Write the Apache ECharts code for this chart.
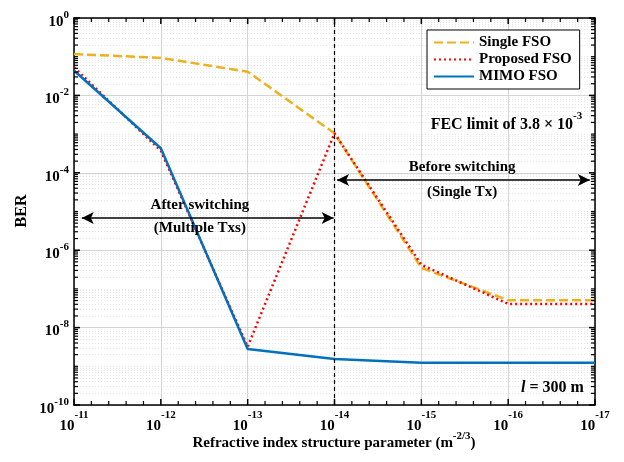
<!DOCTYPE html>
<html><head><meta charset="utf-8">
<script src="https://cdn.jsdelivr.net/npm/echarts@6/dist/echarts.min.js"></script>
<style>html,body{margin:0;padding:0;background:#fff}#c{width:624px;height:462px;background:#fff}</style>
</head><body><div id="c"></div>
<script>
// x values are the negative exponents of the refractive index structure parameter (10^-n)
const xExp = [11, 12, 13, 14, 15, 16, 17];
const singleFSO   = [0.117, 0.093, 0.041, 1.05e-3, 3.5e-7, 5.1e-8, 5.1e-8];
const proposedFSO = [0.053, 3.7e-4, 3.2e-9, 1.05e-3, 4.2e-7, 4.1e-8, 4.1e-8];
const mimoFSO     = [0.044, 4.3e-4, 2.8e-9, 1.55e-9, 1.24e-9, 1.24e-9, 1.24e-9];
const fecLimit = 3.8e-3;
const switchX = 14;
const yMajor = [1e-10, 1e-8, 1e-6, 1e-4, 1e-2, 1];
const yMinor = [];
for (let k = -10; k < 0; k++) {
  for (let m = 1; m <= 9; m++) {
    if (m === 1 && k % 2 === 0) continue;
    yMinor.push(m * Math.pow(10, k));
  }
}
const xMinor = [];
for (let i = 11; i < 17; i++) for (let j = 1; j < 5; j++) xMinor.push(i + j / 5);
// annotations [x, y]
const afterArrow = [[11.09, 6.8e-6], [13.99, 6.8e-6]];
const beforeArrow = [[14.03, 6.5e-5], [16.94, 6.5e-5]];
const notes = [
  {text: 'After switching', at: [12.45, 1.5e-5]},
  {text: '(Multiple Txs)', at: [12.45, 3.7e-6]},
  {text: 'Before switching', at: [15.47, 1.41e-4]},
  {text: '(Single Tx)', at: [15.47, 3.2e-5]}
];
const fecNote = {at: [15.98, 2.2e-3]};
const distNote = {at: [16.51, 2.75e-10]};

const X_MIN = 11, X_MAX = 17, Y_MIN = 1e-10, Y_MAX = 1;
const FONT = '"Liberation Serif", "Times New Roman", serif';
const pair = (xs, ys) => xs.map((x, i) => [x, ys[i]]);
const xRich = () => ({
  b: {fontFamily: FONT, fontWeight: 'bold', fontSize: 15, color: '#000', padding: [10, 0, 0, 0]},
  s: {fontFamily: FONT, fontWeight: 'bold', fontSize: 11, color: '#000', padding: [0, 0, 12, 0]}
});
const yRich = () => ({
  b: {fontFamily: FONT, fontWeight: 'bold', fontSize: 15, color: '#000', padding: [8, 0, 0, 0]},
  s: {fontFamily: FONT, fontWeight: 'bold', fontSize: 11, color: '#000', padding: [0, 0, 6, 0]}
});
const axisLineStyle = () => ({show: true, lineStyle: {color: '#000', width: 1.5}});
const xBase = () => ({
  type: 'value', min: X_MIN, max: X_MAX, interval: 1,
  axisLine: axisLineStyle(), axisTick: {show: false}, minorTick: {show: false}
});
const yCommon = () => ({type: 'log', logBase: 10, min: Y_MIN, max: Y_MAX,
  axisLine: axisLineStyle(), axisTick: {show: false}, minorTick: {show: false}});

// tick marks: [x, y, kind] kind 1 = x major, 2 = x minor, 3 = y major, 4 = y minor
const tickData = []
  .concat(xExp.map(v => [v, Y_MIN, 1]))
  .concat(xMinor.map(v => [v, Y_MIN, 2]))
  .concat(yMajor.map(v => [X_MIN, v, 3]))
  .concat(yMinor.map(v => [X_MIN, v, 4]));

function renderTick(params, api) {
  const kind = api.value(2);
  const major = kind === 1 || kind === 3;
  const len = major ? 6 : 4;
  const style = {stroke: '#000', lineWidth: major ? 1.5 : 1.2};
  let a, b, s1, s2;
  if (kind <= 2) {
    a = api.coord([api.value(0), Y_MIN]);
    b = api.coord([api.value(0), Y_MAX]);
    s1 = {x1: a[0], y1: a[1], x2: a[0], y2: a[1] - len};
    s2 = {x1: b[0], y1: b[1], x2: b[0], y2: b[1] + len};
  } else {
    a = api.coord([X_MIN, api.value(1)]);
    b = api.coord([X_MAX, api.value(1)]);
    s1 = {x1: a[0], y1: a[1], x2: a[0] + len, y2: a[1]};
    s2 = {x1: b[0], y1: b[1], x2: b[0] - len, y2: b[1]};
  }
  return {type: 'group', silent: true, children: [
    {type: 'line', shape: s1, style: style},
    {type: 'line', shape: s2, style: style}
  ]};
}

const chart = echarts.init(document.getElementById('c'));
chart.setOption({
  animation: false,
  grid: {left: 74, right: 29, top: 18, bottom: 57, outerBoundsMode: 'none'},
  graphic: [
    {type: 'text', x: 22, y: 211, rotation: Math.PI / 2, silent: true,
     style: {text: 'BER', fontFamily: FONT, fontWeight: 'bold', fontSize: 16, fill: '#000', align: 'center', verticalAlign: 'middle'}},
    {type: 'text', x: 334, y: 440, silent: true,
     style: {text: '{s|Refractive index structure parameter (m}{p|-2/3}{s|)}',
       align: 'center', verticalAlign: 'middle', fill: '#000',
       rich: {s: {fontFamily: FONT, fontWeight: 'bold', fontSize: 15, fill: '#000', color: '#000', padding: [6, 0, 0, 0]},
              p: {fontFamily: FONT, fontWeight: 'bold', fontSize: 11, fill: '#000', color: '#000', padding: [0, 0, 8, 0]}}}}
  ],
  legend: {
    orient: 'vertical', left: 427, top: 30,
    padding: [5, 8, 5, 6], itemGap: 2, itemWidth: 40, itemHeight: 14,
    borderColor: '#000', borderWidth: 1, backgroundColor: '#fff',
    itemStyle: {opacity: 0},
    textStyle: {fontFamily: FONT, fontWeight: 'bold', fontSize: 15, color: '#000'},
    data: ['Single FSO', 'Proposed FSO', 'MIMO FSO']
  },
  xAxis: [
    Object.assign(xBase(), {
      position: 'bottom',
      axisLabel: {margin: 4, formatter: v => '{b|10}{s|-' + v + '}', rich: xRich()},
      splitLine: {show: true, lineStyle: {color: '#d4d4d4', width: 1}}
    }),
    Object.assign(xBase(), {
      position: 'top', axisLabel: {show: false}, splitLine: {show: false}
    })
  ],
  yAxis: [
    Object.assign(yCommon(), {
      position: 'left',
      axisLabel: {customValues: yMajor.slice(), margin: 5,
        formatter: v => '{b|10}{s|' + Math.round(Math.log10(v)) + '}', rich: yRich()},
      axisTick: {show: false, customValues: yMajor.slice()},
      splitLine: {show: true, lineStyle: {color: '#d4d4d4', width: 1}}
    }),
    Object.assign(yCommon(), {
      position: 'left', axisLine: {show: false},
      axisTick: {show: false, customValues: yMinor.slice()},
      axisLabel: {show: false},
      splitLine: {show: true, lineStyle: {color: '#e6e6e6', width: 1, type: [1, 2]}}
    }),
    Object.assign(yCommon(), {
      position: 'right', axisLabel: {show: false}, splitLine: {show: false}
    })
  ],
  series: [
    {
      name: 'Single FSO', type: 'line', data: pair(xExp, singleFSO), symbol: 'none',
      color: '#EDB120', lineStyle: {color: '#EDB120', width: 2.5, type: [9, 4]}
    },
    {
      name: 'Proposed FSO', type: 'line', data: pair(xExp, proposedFSO), symbol: 'none',
      color: '#FF0000', lineStyle: {color: '#FF0000', width: 2.5, type: [2, 3]}
    },
    {
      name: 'MIMO FSO', type: 'line', data: pair(xExp, mimoFSO), symbol: 'none',
      color: '#0072BD', lineStyle: {color: '#0072BD', width: 2.5}
    },
    {
      name: 'ticks', type: 'custom', data: tickData, renderItem: renderTick,
      encode: {x: 0, y: 1}, clip: false, silent: true, z: 10
    },
    {
      name: 'annot', type: 'line', data: [], silent: true,
      markLine: {
        silent: true, animation: false,
        label: {show: false},
        lineStyle: {color: '#000', width: 1.2, type: [4, 3]},
        symbol: ['none', 'none'],
        data: [
          {yAxis: fecLimit},
          {xAxis: switchX},
          [{coord: afterArrow[0], symbol: 'arrow', symbolSize: [9, 12], lineStyle: {type: 'solid', width: 1.5}},
           {coord: afterArrow[1], symbol: 'arrow', symbolSize: [9, 12]}],
          [{coord: beforeArrow[0], symbol: 'arrow', symbolSize: [9, 12], lineStyle: {type: 'solid', width: 1.5}},
           {coord: beforeArrow[1], symbol: 'arrow', symbolSize: [9, 12]}]
        ]
      },
      markPoint: {
        silent: true, animation: false, symbol: 'circle', symbolSize: 0,
        label: {show: true, position: 'inside', color: '#000', fontFamily: FONT, fontWeight: 'bold', fontSize: 15},
        data: notes.map(n => ({coord: n.at, value: n.text, label: {formatter: n.text}})).concat([
          {coord: fecNote.at, label: {formatter: '{t|FEC limit of 3.8 × 10}{s|-3}',
            rich: {t: {fontFamily: FONT, fontWeight: 'bold', fontSize: 16, color: '#000', padding: [8, 0, 0, 0]},
                   s: {fontFamily: FONT, fontWeight: 'bold', fontSize: 11, color: '#000', padding: [0, 0, 10, 0]}}}},
          {coord: distNote.at, label: {formatter: '{i|l}{t| = 300 m}',
            rich: {i: {fontFamily: FONT, fontWeight: 'bold', fontStyle: 'italic', fontSize: 16, color: '#000'},
                   t: {fontFamily: FONT, fontWeight: 'bold', fontSize: 16, color: '#000'}}}}
        ])
      }
    }
  ]
});
</script></body></html>
